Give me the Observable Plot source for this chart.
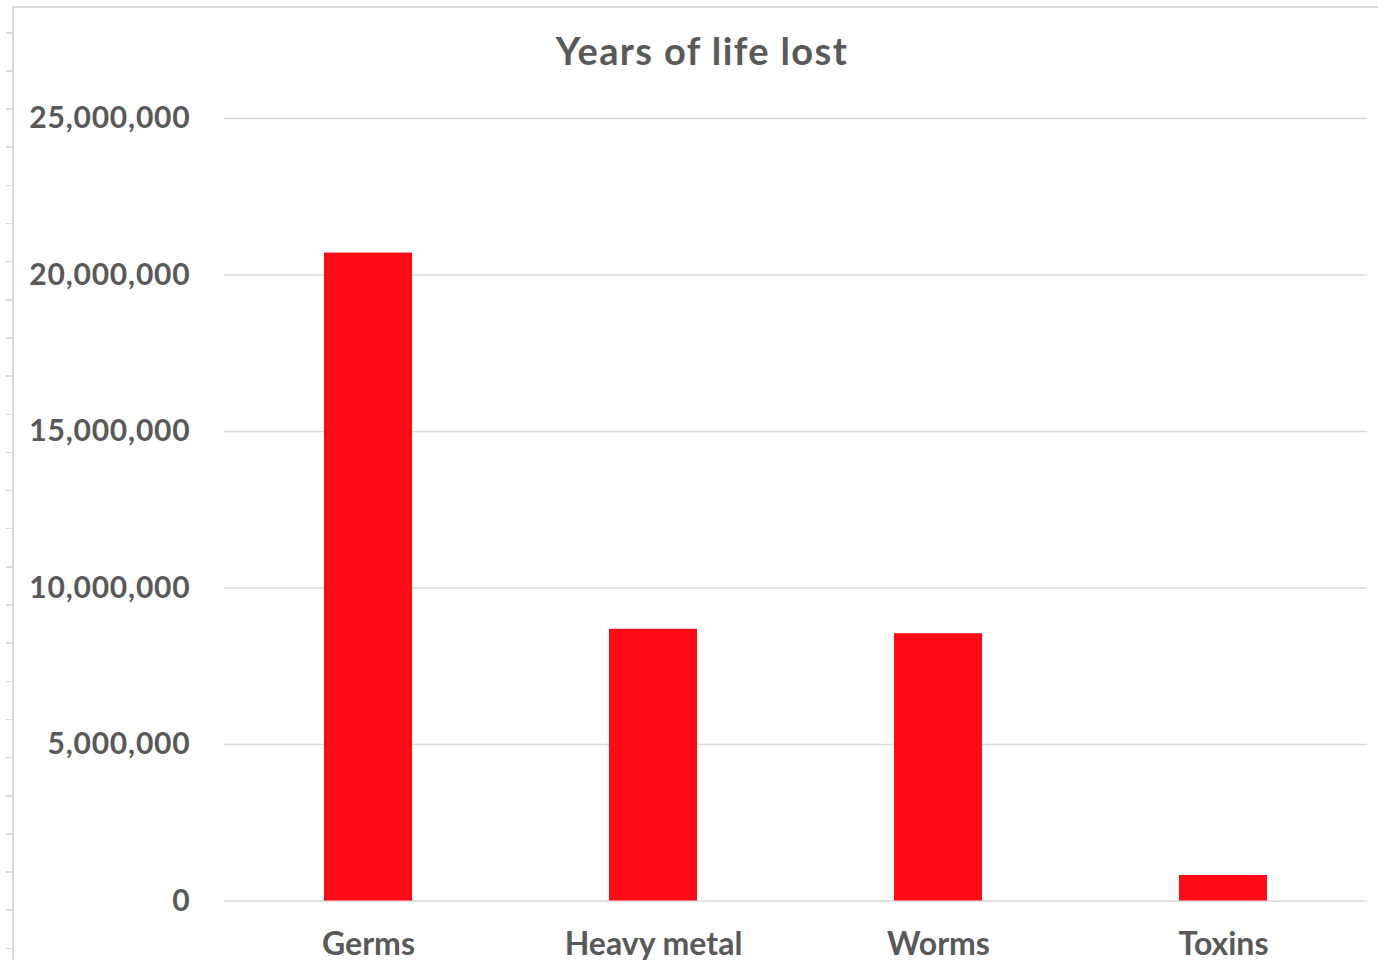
<!DOCTYPE html>
<html>
<head>
<meta charset="utf-8">
<script src="https://cdn.jsdelivr.net/npm/d3@7"></script>
<script src="https://cdn.jsdelivr.net/npm/@observablehq/plot@0.6"></script>
<style>
  html, body { margin: 0; padding: 0; background: #fff; }
  #wrap { position: relative; width: 1378px; height: 960px; overflow: hidden; }
  #frame { position: absolute; left: 12px; top: 6px; width: 1400px; height: 1000px;
           border-top: 2px solid #d9d9d9; border-left: 2px solid #d9d9d9; box-sizing: border-box; }
  #ruler { position: absolute; left: 6px; top: 32px; width: 7px; height: 928px;
           background: repeating-linear-gradient(to bottom, #d9d9d9 0 1.5px, transparent 1.5px 38.15px); }
  #title { position: absolute; left: 0; top: 27px; width: 1404px; text-align: center;
           font: 700 38px "Lato", sans-serif; letter-spacing: 1.4px; color: #595959; }
  #chart { position: absolute; left: 0; top: 0; }
  #chart g[aria-label="y-axis tick label"] text { letter-spacing: 0.8px; }
</style>
</head>
<body>
<div id="wrap">
  <div id="frame"></div>
  <div id="ruler"></div>
  <div id="chart"></div>
  <div id="title">Years of life lost</div>
</div>
<script>
// Years of life lost, by pollutant group
const categories = ["Germs", "Heavy metal", "Worms", "Toxins"];
const yearsLost = [20700000, 8680000, 8540000, 815000];
const yTicks = [0, 5000000, 10000000, 15000000, 20000000, 25000000];

const rows = categories.map((c, i) => ({category: c, value: yearsLost[i]}));

const chart = Plot.plot({
  width: 1378,
  height: 960,
  marginLeft: 224,
  marginRight: 11,
  marginTop: 118,
  marginBottom: 59.5,
  style: {fontFamily: "Lato, sans-serif", fontSize: "30px", fontWeight: 700, color: "#595959", background: "transparent"},
  x: {domain: categories, paddingInner: 0.69, paddingOuter: 0.345, label: null},
  y: {domain: [0, 25000000], label: null},
  marks: [
    Plot.gridY(yTicks, {stroke: "#d9d9d9", strokeOpacity: 1, strokeWidth: 1.6}),
    Plot.barY(rows, {x: "category", y: "value", fill: "#fe0b16"}),
    Plot.axisY(yTicks, {tickSize: 0, tickPadding: 34, tickFormat: d3.format(","), label: null, fontSize: 30}),
    Plot.axisX({tickSize: 0, tickPadding: 31, label: null, fontSize: 32})
  ]
});
document.getElementById("chart").appendChild(chart);
</script>
</body>
</html>
